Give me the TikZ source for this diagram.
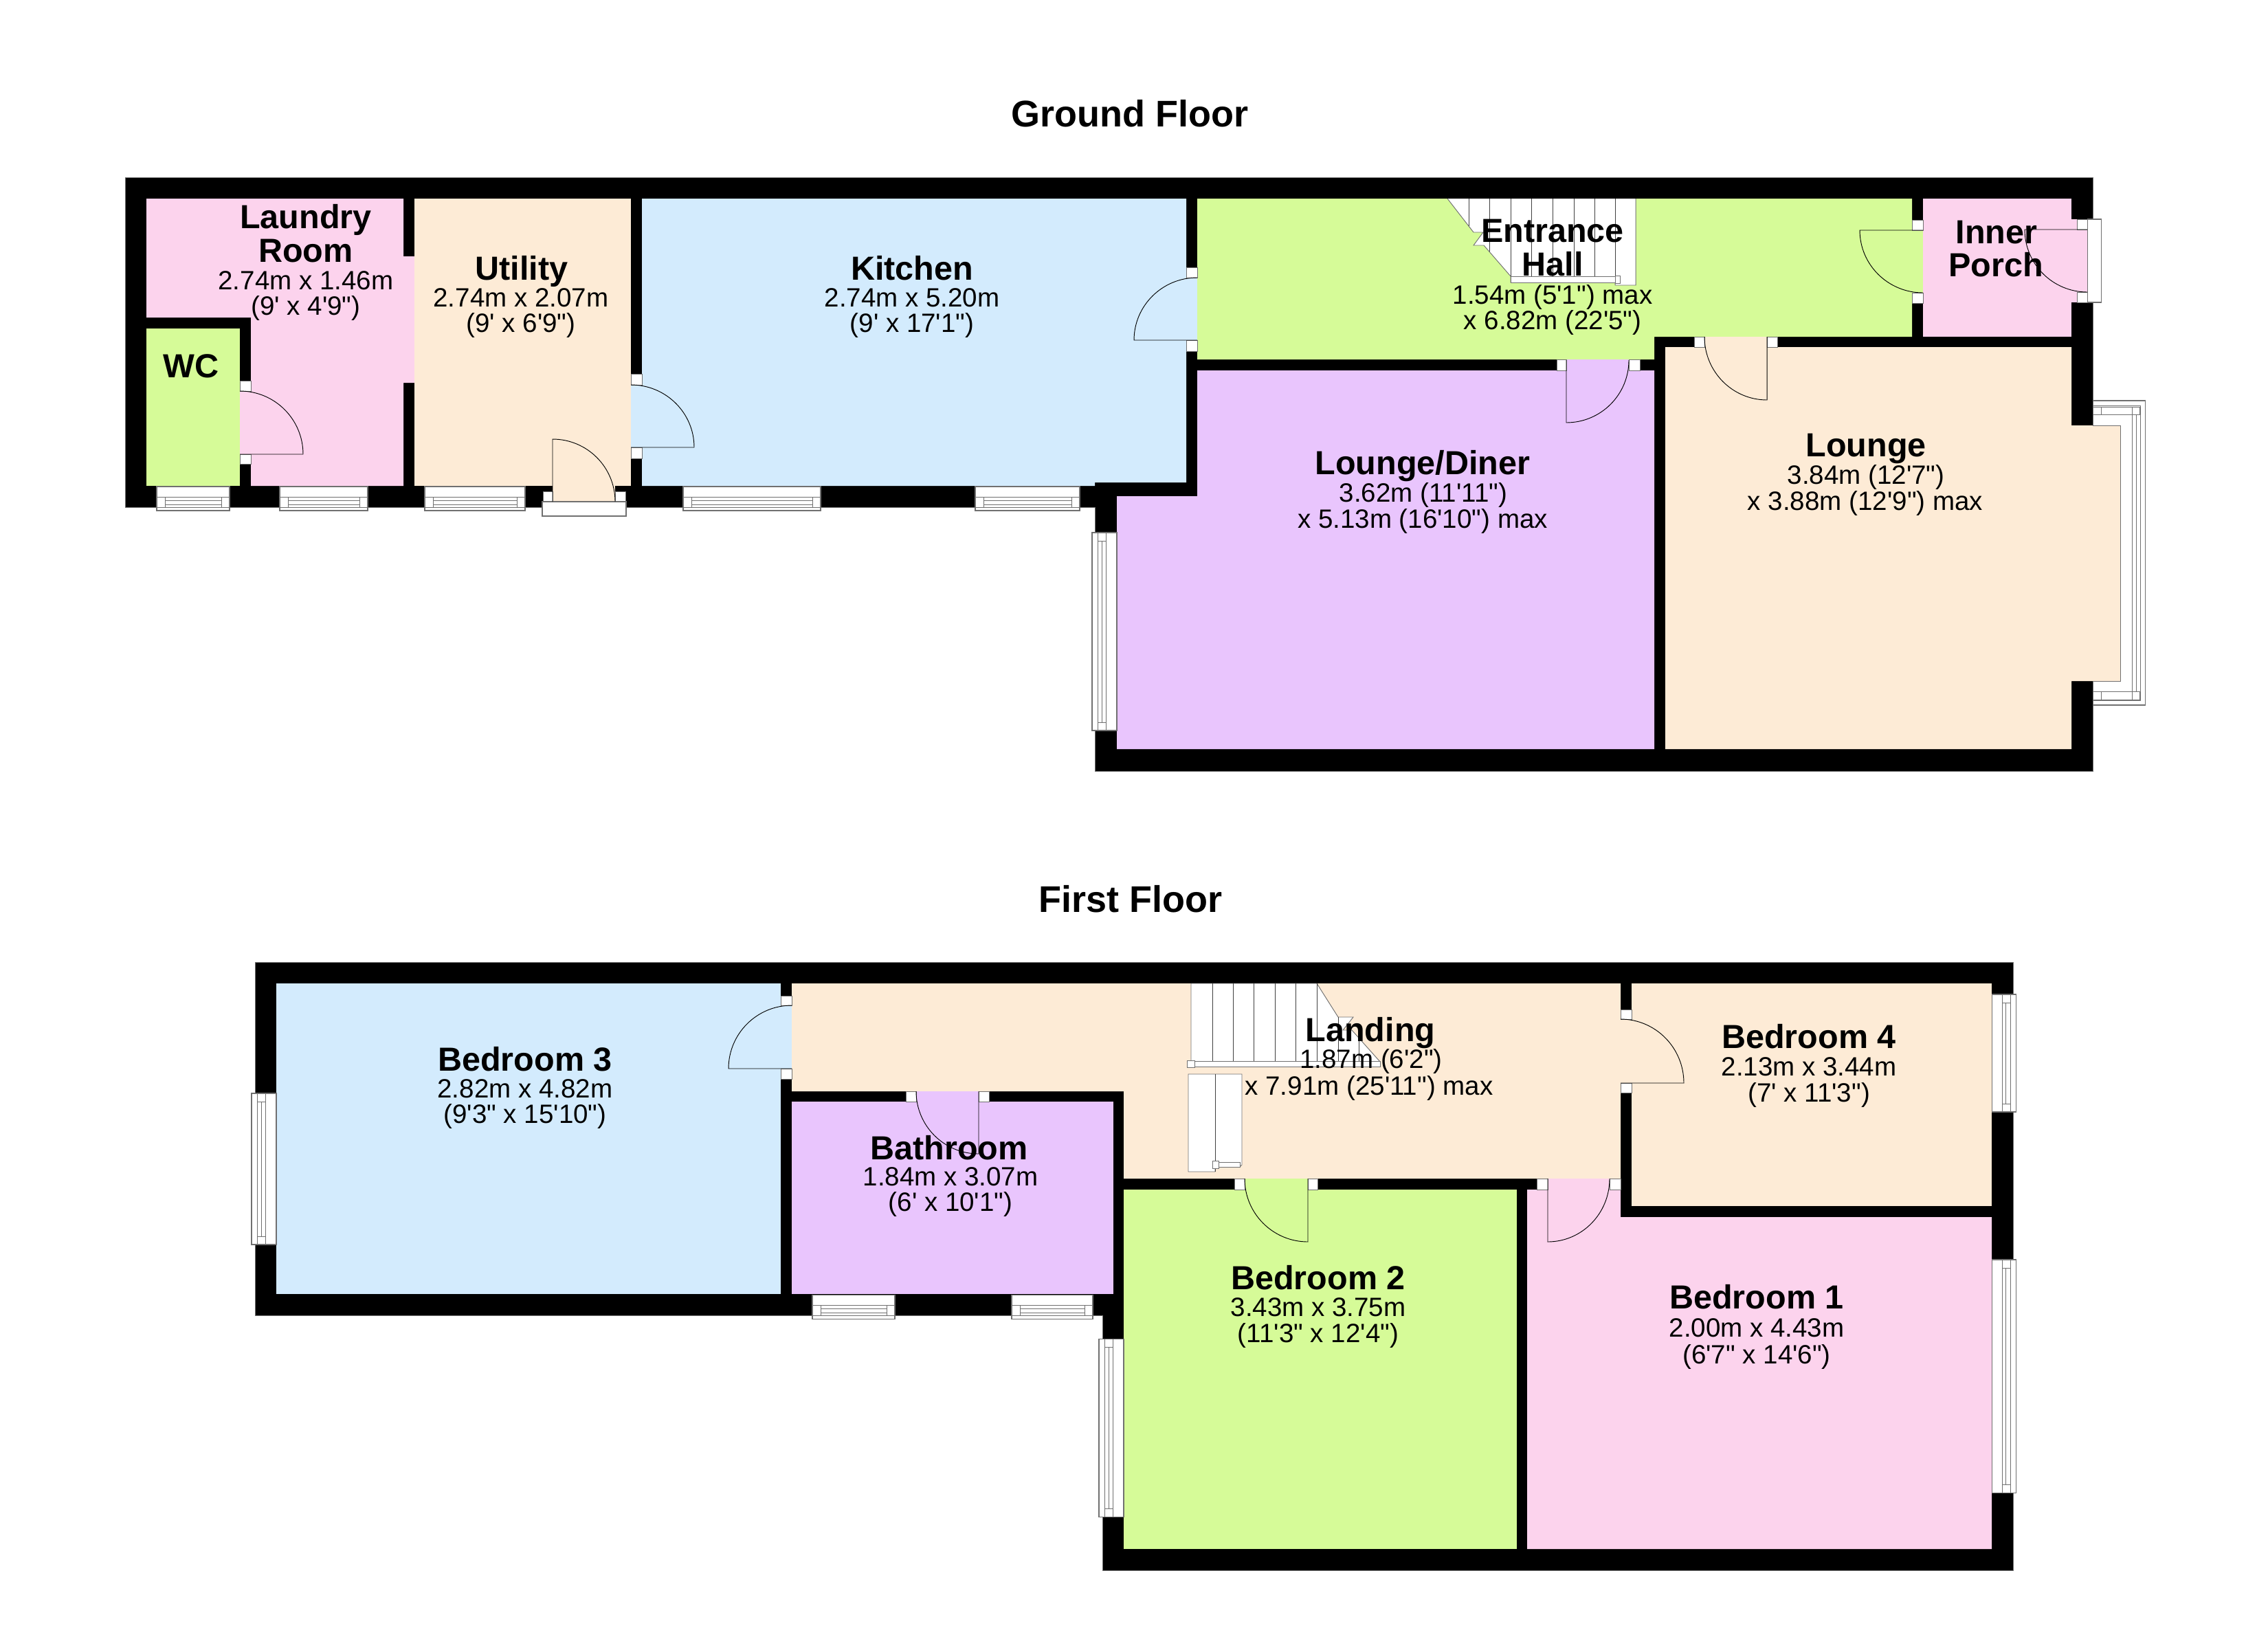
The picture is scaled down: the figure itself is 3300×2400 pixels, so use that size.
\documentclass[tikz,border=0pt]{standalone}
\usepackage{fontspec}
\usetikzlibrary{calc}
\newfontfamily\lib{Liberation Sans}
\definecolor{cpink}{HTML}{FCD3ED}
\definecolor{ccream}{HTML}{FDEBD6}
\definecolor{cblue}{HTML}{D3EBFD}
\definecolor{cgreen}{HTML}{D6FB98}
\definecolor{cpurple}{HTML}{E9C5FD}
\definecolor{cedge}{HTML}{707070}
\tikzset{
  wallshape/.style={fill=black,draw=cedge,line width=0.7pt},
  room/.style={line width=0pt},
  leaf/.style={draw=black,line width=0.7pt},
  jamb/.style={fill=white,draw=cedge,line width=0.5pt},
  winline/.style={draw=cedge,line width=0.6pt},
  sill/.style={fill=white,draw=cedge,line width=0.8pt},
  stairbox/.style={fill=white,draw=cedge,line width=0.7pt},
  tread/.style={draw=black!75,line width=0.6pt},
  title/.style={anchor=base,inner sep=0pt,font=\lib\bfseries\fontsize{40.5}{40.5}\selectfont},
  nm/.style={anchor=base,inner sep=0pt,font=\lib\bfseries\fontsize{36.4}{36.4}\selectfont},
  dm/.style={anchor=base,inner sep=0pt,font=\lib\fontsize{28.9}{30}\selectfont}
}
% hinge, leaf end, corner, arc end
\newcommand{\doorleaf}[4]{\draw[leaf] (#1) -- (#2) .. controls ($(#2)!0.5523!(#3)$) and ($(#4)!0.5523!(#3)$) .. (#4);}
\newcommand{\jb}[4]{\draw[jamb] (#1,#2) rectangle (#3,#4);}
% window in a bottom wall: x0, x1, top
\newcommand{\winB}[3]{%
  \draw[sill] (#1,#3) rectangle (#2,{#3+35});
  \draw[winline] (#1,{#3+30}) -- (#2,{#3+30});
  \draw[winline] ({#1+12},{#3+15}) -- ({#2-12},{#3+15});
  \draw[winline] ({#1+12},{#3+20}) -- ({#2-12},{#3+20});
  \draw[winline] ({#1+12},{#3+26}) -- ({#2-12},{#3+26});
  \draw[winline] (#1,{#3+15}) -- ({#1+12},{#3+15}) -- ({#1+12},{#3+30});
  \draw[winline] (#2,{#3+15}) -- ({#2-12},{#3+15}) -- ({#2-12},{#3+30});
}
% window in a left wall: y0, y1, outer x
\newcommand{\winL}[3]{%
  \draw[sill] (#3,#1) rectangle ({#3+36},#2);
  \draw[winline] ({#3+8},#1) -- ({#3+8},#2);
  \draw[winline] ({#3+20},#1) -- ({#3+20},#2);
  \draw[winline] ({#3+8},{#1+12}) -- ({#3+20},{#1+12});
  \draw[winline] ({#3+8},{#2-12}) -- ({#3+20},{#2-12});
  \draw[winline] ({#3+14},{#1+12}) -- ({#3+14},{#2-12});
}
% window in a right wall: y0, y1, inner x
\newcommand{\winR}[3]{%
  \draw[sill] (#3,#1) rectangle ({#3+35},#2);
  \draw[winline] ({#3+27},#1) -- ({#3+27},#2);
  \draw[winline] ({#3+15},#1) -- ({#3+15},#2);
  \draw[winline] ({#3+15},{#1+12}) -- ({#3+27},{#1+12});
  \draw[winline] ({#3+15},{#2-12}) -- ({#3+27},{#2-12});
  \draw[winline] ({#3+20},{#1+12}) -- ({#3+20},{#2-12});
}
\begin{document}
\begin{tikzpicture}[x=0.75pt,y=-0.75pt]
\useasboundingbox (0,0) rectangle (3300,2400);
\fill[white] (0,0) rectangle (3300,2400);

%% ================= GROUND FLOOR =================
\draw[wallshape] (182,258) -- (3045,258) -- (3045,1122) -- (1593,1122) -- (1593,738) -- (182,738) -- cycle;
% bay window
\draw[sill] (3045,583) rectangle (3121,1026);
\draw[winline] (3045,590) -- (3114,590) -- (3114,1019) -- (3045,1019);
\draw[winline] (3102,603) -- (3102,1006) (3108,603) -- (3108,1006);
\draw[winline] (3057,592) -- (3102,592) (3057,603) -- (3102,603) (3057,1006) -- (3102,1006) (3057,1018) -- (3102,1018);
\jb{3045}{592}{3057}{603}\jb{3102}{592}{3113}{603}\jb{3045}{1006}{3057}{1018}\jb{3102}{1006}{3113}{1018}
% rooms
\fill[cpink] (213,289) -- (587,289) -- (587,373) -- (603,373) -- (603,557) -- (587,557) -- (587,707) -- (365,707) -- (365,462) -- (213,462) -- cycle;
\fill[cgreen] (213,478) rectangle (349,707);
\fill[ccream] (603,289) rectangle (918,707);
\fill[cblue] (934,289) -- (1726,289) -- (1726,702) -- (1593,702) -- (1593,707) -- (934,707) -- cycle;
\fill[cgreen] (1742,289) -- (2782,289) -- (2782,490) -- (2407,490) -- (2407,523) -- (1742,523) -- cycle;
\fill[cpurple] (1742,539) -- (2407,539) -- (2407,1090) -- (1625,1090) -- (1625,722) -- (1742,722) -- cycle;
\fill[ccream] (2423,505) -- (3014,505) -- (3014,619) -- (3085,619) -- (3085,991) -- (3014,991) -- (3014,1090) -- (2423,1090) -- cycle;
\draw[winline] (3045,619) -- (3085,619) -- (3085,991) -- (3045,991);
\fill[cpink] (2798,289) rectangle (3014,490);
% windows
\winB{228}{334}{708}\winB{407}{535}{708}\winB{618}{764}{708}\winB{994}{1194}{708}\winB{1419}{1571}{708}
\winL{775}{1063}{1589}
% doors
\fill[cpink] (349,569) rectangle (365,661);
\jb{349}{554}{365}{569}\jb{349}{661}{365}{675}
\doorleaf{349,661}{441,661}{441,569}{349,569}
\fill[cblue] (918,560) rectangle (934,651);
\jb{918}{544}{934}{560}\jb{918}{651}{934}{667}
\doorleaf{918,651}{1010,651}{1010,560}{918,560}
\fill[ccream] (804,707) rectangle (895,730);
\jb{790}{715}{804}{730}\jb{895}{715}{910}{730}
\draw[sill] (789,730) rectangle (911,751);
\doorleaf{804,730}{804,639}{895,639}{895,730}
\fill[cblue] (1726,404) rectangle (1742,495);
\jb{1726}{389}{1742}{404}\jb{1726}{495}{1742}{511}
\doorleaf{1742,495}{1650,495}{1650,404}{1742,404}
\fill[cpurple] (2279,523) rectangle (2370,539);
\jb{2265}{523}{2279}{539}\jb{2370}{523}{2386}{539}
\doorleaf{2279,524}{2279,615}{2370,615}{2370,524}
\fill[ccream] (2480,490) rectangle (2571,505);
\jb{2465}{490}{2480}{505}\jb{2571}{490}{2586}{505}
\doorleaf{2571,490}{2571,582}{2480,582}{2480,490}
\fill[cgreen] (2782,335) rectangle (2798,426);
\jb{2782}{320}{2798}{335}\jb{2782}{426}{2798}{441}
\doorleaf{2798,335}{2706,335}{2706,426}{2798,426}
\fill[cpink] (3014,319) rectangle (3037,440);
\jb{3022}{319}{3037}{334}\jb{3022}{425}{3037}{440}
\draw[sill] (3037,319) rectangle (3057,440);
\doorleaf{3037,334}{2946,334}{2946,425}{3037,425}
% entrance hall stairs
\draw[stairbox] (2106,289) -- (2144,338) -- (2158,338) -- (2144,357) -- (2159,357) -- (2198,402) -- (2198,411) -- (2350,411) -- (2350,415) -- (2380,415) -- (2380,289);
\draw[tread] (2137,289) -- (2137,329) (2167,289) -- (2167,366);
\foreach \tx in {2198,2228,2259,2290,2320,2350} {\draw[tread] (\tx,289) -- (\tx,402);}
\draw[stairbox] (2198,402) rectangle (2350,411);
\draw[stairbox] (2350,401) rectangle (2357,412);

%% ================= FIRST FLOOR =================
\draw[wallshape] (371,1400) -- (2929,1400) -- (2929,2285) -- (1604,2285) -- (1604,1914) -- (371,1914) -- cycle;
\fill[cblue] (402,1431) rectangle (1136,1883);
\fill[ccream] (1152,1431) -- (2358,1431) -- (2358,1715) -- (1635,1715) -- (1635,1588) -- (1152,1588) -- cycle;
\fill[cpurple] (1152,1603) rectangle (1620,1883);
\fill[cgreen] (1635,1731) rectangle (2207,2254);
\fill[cpink] (2222,1731) -- (2358,1731) -- (2358,1771) -- (2898,1771) -- (2898,2254) -- (2222,2254) -- cycle;
\fill[ccream] (2374,1431) rectangle (2898,1755);
% windows
\winL{1591}{1811}{366}
\winL{1948}{2207}{1599}
\winB{1182}{1302}{1884}\winB{1472}{1590}{1884}
\winR{1447}{1618}{2898}
\winR{1833}{2172}{2898}
% doors
\fill[cblue] (1136,1463) rectangle (1152,1555);
\jb{1136}{1449}{1152}{1463}\jb{1136}{1555}{1152}{1570}
\doorleaf{1152,1555}{1060,1555}{1060,1463}{1152,1463}
\fill[cpurple] (1333,1588) rectangle (1424,1603);
\jb{1318}{1588}{1333}{1603}\jb{1424}{1588}{1439}{1603}
\doorleaf{1424,1588}{1424,1679}{1333,1679}{1333,1588}
\fill[cgreen] (1811,1715) rectangle (1903,1731);
\jb{1796}{1715}{1811}{1731}\jb{1903}{1715}{1917}{1731}
\doorleaf{1903,1715}{1903,1807}{1811,1807}{1811,1715}
\fill[cpink] (2252,1715) rectangle (2342,1731);
\jb{2236}{1715}{2252}{1731}\jb{2342}{1715}{2358}{1731}
\doorleaf{2252,1715}{2252,1807}{2342,1807}{2342,1715}
\fill[ccream] (2358,1483) rectangle (2374,1576);
\jb{2358}{1469}{2374}{1483}\jb{2358}{1576}{2374}{1590}
\doorleaf{2358,1576}{2450,1576}{2450,1483}{2358,1483}
% landing stairs
\draw[stairbox] (1733,1544) -- (1733,1431) -- (1916,1431) -- (1947,1480) -- (1969,1480) -- (1954,1499) -- (1967,1499) -- (2008,1545) -- (2008,1552) -- (1733,1552);
\foreach \tx in {1764,1794,1824,1855,1885,1916} {\draw[tread] (\tx,1431) -- (\tx,1544);}
\draw[tread] (1947,1480) -- (1947,1544) (1977,1512) -- (1977,1544);
\draw[stairbox] (1733,1544) rectangle (2008,1552);
\draw[stairbox] (1727,1543) rectangle (1738,1553);
\draw[stairbox] (1729,1563) -- (1807,1563) -- (1807,1695) -- (1804,1698) -- (1768,1698) -- (1768,1705) -- (1729,1705) -- cycle;
\draw[tread] (1768,1563) -- (1768,1705);
\draw[stairbox] (1773,1691) rectangle (1804,1698);
\draw[stairbox] (1764,1689) rectangle (1773,1700);

%% ================= LABELS =================
\node[title] (tground) at (1644,184) {Ground Floor};
\node[title] (tfirst) at (1645,1327) {First Floor};

\node[nm] (la1) at (445,332) {Laundry};
\node[nm] (la2) at (445,381) {Room};
\node[dm] (la3) at (445,421) {2.74m x 1.46m};
\node[dm] (la4) at (445,458) {(9' x 4'9")};
\node[nm] (wc1) at (278,549) {WC};
\node[nm] (ut1) at (759,407) {Utility};
\node[dm] (ut2) at (758,446) {2.74m x 2.07m};
\node[dm] (ut3) at (758,483) {(9' x 6'9")};
\node[nm] (ki1) at (1327,407) {Kitchen};
\node[dm] (ki2) at (1327,446) {2.74m x 5.20m};
\node[dm] (ki3) at (1327,483) {(9' x 17'1")};
\node[nm] (eh1) at (2259,352) {Entrance};
\node[nm] (eh2) at (2259,401) {Hall};
\node[dm] (eh3) at (2259,442) {1.54m (5'1") max};
\node[dm] (eh4) at (2259,479) {x 6.82m (22'5")};
\node[nm] (ip1) at (2905,354) {Inner};
\node[nm] (ip2) at (2904,402) {Porch};
\node[nm] (ld1) at (2070,690) {Lounge/Diner};
\node[dm] (ld2) at (2071,730) {3.62m (11'11")};
\node[dm] (ld3) at (2070,768) {x 5.13m (16'10") max};
\node[nm] (lo1) at (2715,664) {Lounge};
\node[dm] (lo2) at (2715,704) {3.84m (12'7")};
\node[dm] (lo3) at (2714,742) {x 3.88m (12'9") max};

\node[nm] (b31) at (764,1558) {Bedroom 3};
\node[dm] (b32) at (764,1597) {2.82m x 4.82m};
\node[dm] (b33) at (764,1634) {(9'3" x 15'10")};
\node[nm] (ba1) at (1381,1687) {Bathroom};
\node[dm] (ba2) at (1383,1725) {1.84m x 3.07m};
\node[dm] (ba3) at (1383,1762) {(6' x 10'1")};
\node[nm] (ln1) at (1994,1515) {Landing};
\node[dm] (ln2) at (1995,1554) {1.87m (6'2")};
\node[dm] (ln3) at (1992,1593) {x 7.91m (25'11") max};
\node[nm] (b41) at (2632,1525) {Bedroom 4};
\node[dm] (b42) at (2632,1565) {2.13m x 3.44m};
\node[dm] (b43) at (2632,1603) {(7' x 11'3")};
\node[nm] (b21) at (1918,1876) {Bedroom 2};
\node[dm] (b22) at (1918,1915) {3.43m x 3.75m};
\node[dm] (b23) at (1918,1953) {(11'3" x 12'4")};
\node[nm] (b11) at (2556,1904) {Bedroom 1};
\node[dm] (b12) at (2556,1945) {2.00m x 4.43m};
\node[dm] (b13) at (2556,1984) {(6'7" x 14'6")};
\end{tikzpicture}
\end{document}
